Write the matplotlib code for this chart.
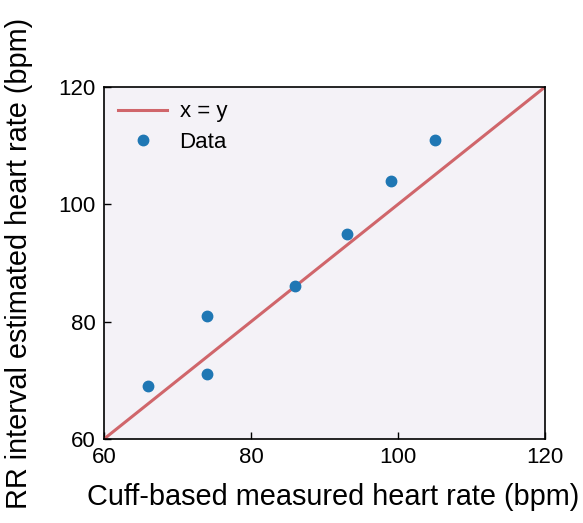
import matplotlib
matplotlib.use("Agg")
import matplotlib.pyplot as plt

plt.rcParams['font.family'] = ['Liberation Sans', 'DejaVu Sans']

cuff_hr = [66, 74, 74, 86, 93, 99, 105]
rr_hr = [69, 81, 71, 86, 95, 104, 111]
line_xy = [60, 120]
ticks = [60, 80, 100, 120]

fig = plt.figure(figsize=(5.83, 5.23), dpi=100)
ax = fig.add_axes([104/583, 1-439/523, (545-104)/583, (439-87)/523])
ax.set_facecolor('#f4f2f7')
ax.plot(line_xy, line_xy, color='#d0666b', lw=2.2, label='x = y')
ax.plot(cuff_hr, rr_hr, 'o', color='#1f77b4', ms=7.5, label='Data')
ax.set_xlim(60, 120)
ax.set_ylim(60, 120)
ax.set_xticks(ticks)
ax.set_yticks(ticks)
ax.tick_params(direction='in', length=5, width=1, labelsize=16)
ax.tick_params(axis='x', pad=6)
ax.tick_params(axis='y', pad=6)
for s in ax.spines.values():
    s.set_linewidth(1.2)
ax.set_xlabel('Cuff-based measured heart rate (bpm)', fontsize=20.8)
ax.set_ylabel('RR interval estimated heart rate (bpm)', fontsize=20.8)
ax.xaxis.set_label_coords(0.519, -0.125)
ax.yaxis.set_label_coords(-0.16, 0.5)
ax.legend(loc='upper left', frameon=False, fontsize=16, handlelength=2.2,
          borderaxespad=0.25, handletextpad=0.55, labelspacing=0.42)
fig.savefig('out.png', dpi=100)
